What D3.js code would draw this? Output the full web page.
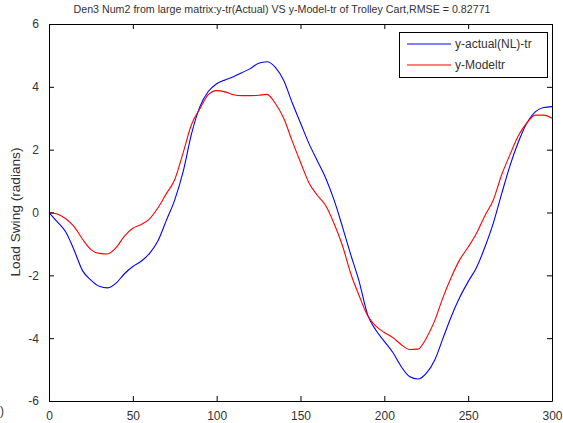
<!DOCTYPE html>
<html>
<head>
<meta charset="utf-8">
<script src="https://cdn.jsdelivr.net/npm/d3@7"></script>
<style>
  body { margin: 0; background: #fff; }
  text { font-family: "Liberation Sans", Arial, sans-serif; fill: #333; }
</style>
</head>
<body>
<div id="chart"></div>
<script>
// time samples (every 5)
const time = d3.range(0, 301, 5);

const actual = [
  0, -0.3, -0.62, -1.2, -1.85, -2.15, -2.35, -2.4, -2.25, -1.95,
  -1.72, -1.55, -1.3, -0.9, -0.25, 0.4, 1.3, 2.5, 3.37, 3.85,
  4.1, 4.22, 4.32, 4.45, 4.58, 4.75, 4.8, 4.62, 4.2, 3.5,
  2.85, 2.2, 1.65, 1.1, 0.4, -0.45, -1.35, -2.2, -3.25, -3.75,
  -4.1, -4.45, -4.9, -5.22, -5.3, -5.12, -4.7, -4.0, -3.3, -2.7,
  -2.2, -1.75, -1.1, -0.34, 0.6, 1.5, 2.25, 2.85, 3.2, 3.34, 3.37
];

const model = [
  0, -0.05, -0.2, -0.45, -0.85, -1.18, -1.3, -1.32, -1.12, -0.75,
  -0.5, -0.38, -0.2, 0.15, 0.6, 1.05, 1.9, 2.8, 3.3, 3.75,
  3.88, 3.84, 3.75, 3.72, 3.72, 3.73, 3.76, 3.47, 3.0, 2.28,
  1.6, 0.95, 0.55, 0.22, -0.35, -1.05, -1.95, -2.65, -3.28, -3.62,
  -3.82, -3.98, -4.2, -4.36, -4.35, -4.0, -3.45, -2.7, -2.05, -1.5,
  -1.1, -0.66, -0.1, 0.4, 1.2, 1.85, 2.45, 2.85, 3.1, 3.1, 3.0
];

const xTicks = [0, 50, 100, 150, 200, 250, 300];
const yTicks = [-6, -4, -2, 0, 2, 4, 6];
const seriesNames = ["y-actual(NL)-tr", "y-Modeltr"];
const seriesColors = ["#0000ff", "#ff0000"];

const width = 563, height = 423;
const plotLeft = 49, plotRight = 552, plotTop = 24, plotBottom = 401;

const svg = d3.select("#chart").append("svg")
  .attr("width", width)
  .attr("height", height);

const x = d3.scaleLinear().domain([0, 300]).range([plotLeft, plotRight]);
const y = d3.scaleLinear().domain([-6, 6]).range([plotBottom, plotTop]);

// curves
const line = d3.line()
  .x((d, i) => x(time[i]))
  .y(d => y(d))
  .curve(d3.curveMonotoneX);

[actual, model].forEach((s, i) => {
  svg.append("path")
    .attr("d", line(s))
    .attr("fill", "none")
    .attr("stroke", seriesColors[i])
    .attr("stroke-width", 1.1);
});

// axes (ticks inward on all four sides)
const axisStyle = g => {
  g.selectAll("path").attr("stroke", "#000");
  g.selectAll("line").attr("stroke", "#000");
  g.selectAll("text").attr("fill", "#333")
    .style("font-size", "12px")
    .style("font-family", "Liberation Sans, Arial, sans-serif");
};

svg.append("g")
  .attr("transform", `translate(0,${plotBottom})`)
  .call(d3.axisBottom(x).tickValues(xTicks).tickSize(-5).tickSizeOuter(0).tickPadding(10))
  .call(axisStyle);

svg.append("g")
  .attr("transform", `translate(0,${plotTop})`)
  .call(d3.axisTop(x).tickValues(xTicks).tickSize(-5).tickSizeOuter(0).tickFormat(""))
  .call(axisStyle);

svg.append("g")
  .attr("transform", `translate(${plotLeft},0)`)
  .call(d3.axisLeft(y).tickValues(yTicks).tickSize(-5).tickSizeOuter(0).tickPadding(10).tickFormat(d => String(d)))
  .call(axisStyle);

svg.append("g")
  .attr("transform", `translate(${plotRight},0)`)
  .call(d3.axisRight(y).tickValues(yTicks).tickSize(-5).tickSizeOuter(0).tickFormat(""))
  .call(axisStyle);

// title
svg.append("text")
  .attr("x", 282)
  .attr("y", 13)
  .attr("text-anchor", "middle")
  .attr("textLength", 417)
  .attr("lengthAdjust", "spacingAndGlyphs")
  .style("font-size", "11px")
  .text("Den3 Num2 from large matrix:y-tr(Actual) VS y-Model-tr of Trolley Cart,RMSE = 0.82771");

// y label
svg.append("text")
  .attr("transform", "translate(20,212) rotate(-90)")
  .attr("text-anchor", "middle")
  .attr("textLength", 129)
  .attr("lengthAdjust", "spacingAndGlyphs")
  .style("font-size", "12px")
  .text("Load Swing (radians)");

// clipped x label remnant
svg.append("text")
  .attr("x", 0)
  .attr("y", 415)
  .style("font-size", "12px")
  .text(")");

// legend
const legend = svg.append("g");
legend.append("rect")
  .attr("x", 399.5).attr("y", 32.5)
  .attr("width", 148).attr("height", 45)
  .attr("fill", "#fff").attr("stroke", "#000");

seriesNames.forEach((name, i) => {
  const ly = 44 + i * 21;
  legend.append("line")
    .attr("x1", 407).attr("x2", 451)
    .attr("y1", ly).attr("y2", ly)
    .attr("stroke", seriesColors[i])
    .attr("stroke-width", 1.1);
  legend.append("text")
    .attr("x", 455).attr("y", ly + 4)
    .style("font-size", "12px")
    .text(name);
});
</script>
</body>
</html>
